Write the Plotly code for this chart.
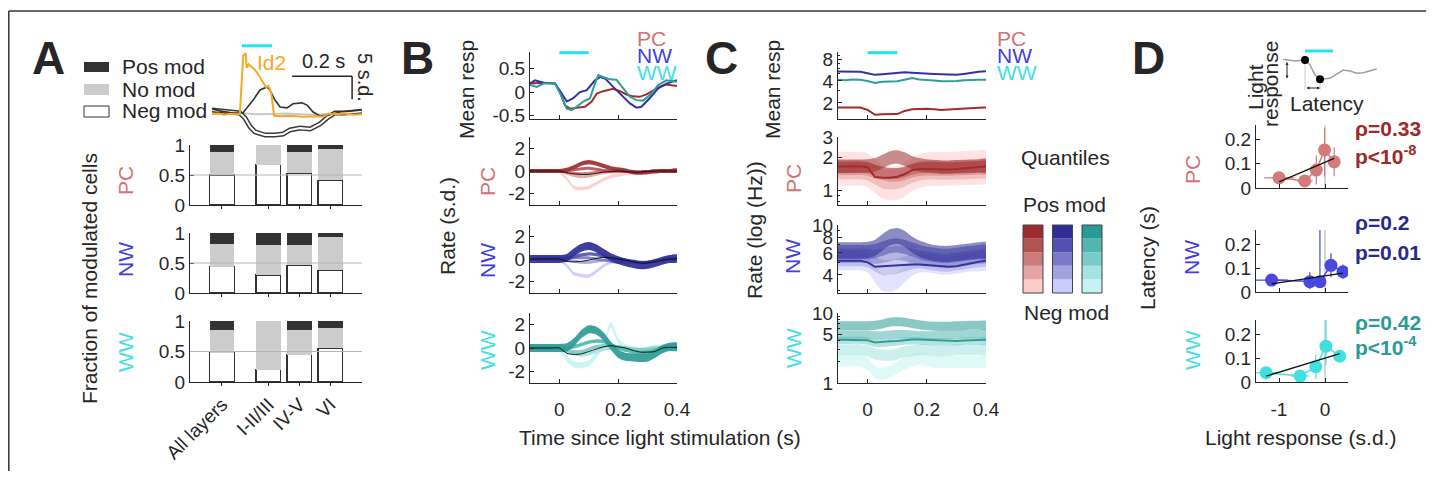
import plotly.graph_objects as go

OFF = 8  # the page adds an 8 px body margin; layout positions below are page pixels
W, H = 1434 - 2 * OFF, 479 - 2 * OFF
INK = '#262626'
FONT = 'Liberation Sans, Arial, sans-serif'

# ---------------- data ----------------
# panel A: fraction of modulated cells
layers = ['All layers', 'I-II/III', 'IV-V', 'VI']
layer_pos = [0, 1.5, 2.5, 3.5]
neg_frac = {'PC': [0.50, 0.67, 0.53, 0.41], 'NW': [0.44, 0.30, 0.46, 0.38], 'WW': [0.48, 0.20, 0.45, 0.55]}
pos_frac = {'PC': [0.11, 0.00, 0.11, 0.07], 'NW': [0.19, 0.20, 0.20, 0.07], 'WW': [0.14, 0.00, 0.14, 0.12]}

# panel A inset: example responses (s.d.)
id2_t = [-0.1, -0.08, -0.06, -0.04, -0.02, -0.007, 0.004, 0.012, 0.016, 0.022, 0.03, 0.04, 0.05, 0.06, 0.07,
         0.08, 0.088, 0.097, 0.107, 0.13, 0.16, 0.2, 0.25, 0.27, 0.29, 0.31, 0.34, 0.37, 0.4]
id2_v = [-0.3, -0.1, -0.4, -0.2, -0.3, -0.2, 12.5, 13.0, 9.8, 10.6, 10.1, 9.6, 8.8, 7.8, 6.8,
         5.6, 5.9, 4.6, -0.6, -0.7, -0.6, -0.8, -0.7, -0.8, -0.1, -0.3, -0.1, -0.4, -0.3]
posm_t = [-0.1, -0.07, -0.03, 0.003, 0.037, 0.06, 0.083, 0.093, 0.11, 0.127, 0.15, 0.17, 0.2, 0.217, 0.237,
          0.26, 0.293, 0.327, 0.36, 0.4]
posm_v = [0.9, 0.4, 0.0, 0.0, 2.8, 5.0, 5.65, 5.0, 2.8, 1.3, 1.1, 2.0, 2.2, 1.7, 0.2, -0.65, -0.4, 0.2, 0.4, 0.65]
nomod_t = [-0.1, 0.0, 0.05, 0.1, 0.15, 0.2, 0.25, 0.3, 0.4]
nomod_v = [0.4, 0.0, -0.3, -0.2, -0.1, -0.3, -0.4, -0.1, 0.2]
negm_t = [-0.1, -0.05, -0.007, 0.01, 0.027, 0.043, 0.077, 0.11, 0.137, 0.16, 0.193, 0.227, 0.26, 0.287, 0.31,
          0.343, 0.4]
negm_v = [0.65, 0.3, 0.0, -1.1, -3.0, -4.1, -4.8, -4.8, -4.6, -3.7, -3.3, -3.5, -2.4, -0.9, 0.0, 0.0, 0.4]

stim = [0.0, 0.1]

# panel B: mean response (s.d.)
pc_mean_t = [-0.1, -0.054, -0.015, 0.002, 0.019, 0.036, 0.059, 0.087, 0.11, 0.127, 0.149, 0.183, 0.206, 0.228,
             0.251, 0.273, 0.296, 0.319, 0.341, 0.364, 0.4]
pc_mean_v = [0.185, 0.2, 0.185, 0.0, -0.28, -0.35, -0.33, -0.31, -0.2, -0.03, 0.02, 0.07, 0.02, -0.05,
             -0.09, -0.1, -0.05, 0.04, 0.11, 0.16, 0.13]
nw_mean_t = [-0.1, -0.083, -0.054, -0.015, 0.008, 0.025, 0.047, 0.07, 0.093, 0.121, 0.138, 0.155, 0.183, 0.217,
             0.24, 0.262, 0.279, 0.307, 0.336, 0.364, 0.4]
nw_mean_v = [0.185, 0.25, 0.2, 0.185, -0.03, -0.2, -0.13, 0.0, 0.04, 0.25, 0.32, 0.29, 0.11, -0.1,
             -0.24, -0.33, -0.31, -0.13, 0.08, 0.18, 0.25]
ww_mean_t = [-0.1, -0.077, -0.054, -0.015, 0.008, 0.025, 0.042, 0.059, 0.081, 0.104, 0.121, 0.132, 0.149, 0.172,
             0.194, 0.217, 0.24, 0.262, 0.285, 0.313, 0.336, 0.364, 0.4]
ww_mean_v = [0.15, 0.11, 0.18, 0.185, -0.1, -0.35, -0.38, -0.31, -0.2, -0.13, 0.18, 0.36, 0.32, 0.27,
             0.26, 0.08, -0.1, -0.17, -0.18, -0.03, 0.15, 0.25, 0.22]

# panel B: quantile responses (s.d.), q1 = most negative ... q5 = most positive
t_grid = [-0.1, -0.075, -0.05, -0.025, 0.0, 0.025, 0.05, 0.075, 0.1, 0.125, 0.15, 0.175, 0.2, 0.225, 0.25,
          0.275, 0.3, 0.325, 0.35, 0.375, 0.4]
b_pc_q = [
    [0, 0, 0, 0, -0.05, -0.7, -1.45, -1.55, -1.45, -1.1, -0.75, -0.5, -0.35, -0.25, -0.2, -0.15, -0.1, -0.05, 0, 0, 0],
    [0, 0, 0, 0, 0, -0.2, -0.4, -0.5, -0.45, -0.3, -0.15, -0.1, -0.05, -0.05, -0.1, -0.1, -0.05, 0, 0, 0, 0],
    [0, 0, 0, 0, 0, -0.1, -0.2, -0.25, -0.2, -0.1, -0.05, 0, 0, -0.05, -0.1, -0.1, -0.05, 0, 0, 0, 0],
    [0, 0, 0, 0, 0, 0, 0.1, 0.2, 0.25, 0.15, 0.05, 0, 0, -0.05, -0.1, -0.1, -0.05, 0, 0, 0, 0],
    [0, 0, 0, 0, 0, 0.1, 0.35, 0.65, 0.78, 0.65, 0.45, 0.25, 0.15, 0.05, -0.1, -0.15, -0.1, -0.05, 0, 0, 0.05],
]
b_pc_all = [0, 0, 0, 0, 0, -0.15, -0.25, -0.3, -0.3, -0.2, -0.1, -0.05, 0, -0.05, -0.1, -0.1, -0.05, 0, 0, 0, 0]
b_pc_sem = [0.15, 0.13, 0.13, 0.13, 0.18]

b_nw_q = [
    [0, 0, 0, 0, -0.05, -0.6, -1.3, -1.45, -1.5, -1.1, -0.6, -0.3, -0.2, -0.2, -0.3, -0.35, -0.3, -0.2, -0.1, 0, 0],
    [0, 0, 0, 0, 0, -0.1, -0.2, -0.3, -0.3, -0.2, -0.1, 0, -0.1, -0.2, -0.3, -0.35, -0.3, -0.2, -0.1, 0, 0],
    [0, 0, 0, 0, 0, 0.05, 0.1, 0.1, 0.1, 0, -0.1, -0.2, -0.3, -0.3, -0.3, -0.3, -0.3, -0.2, -0.1, 0, 0],
    [0, 0, 0, 0, 0, 0.05, 0.2, 0.35, 0.45, 0.4, 0.25, 0.1, 0, -0.1, -0.2, -0.3, -0.3, -0.2, -0.1, 0, 0],
    [0, 0, 0, 0, 0, 0.1, 0.6, 1.0, 1.15, 0.95, 0.55, 0.15, -0.1, -0.3, -0.45, -0.55, -0.5, -0.35, -0.15, 0, 0.05],
]
b_nw_all = [0, 0, 0, 0, 0, -0.2, -0.25, -0.2, -0.1, 0.05, 0.15, 0.1, 0, -0.1, -0.25, -0.35, -0.35, -0.25, -0.1, 0, 0]
b_nw_sem = [0.15, 0.13, 0.13, 0.15, 0.35]

b_ww_q = [
    [0, 0, 0, 0, -0.1, -0.9, -1.4, -1.5, -1.3, -0.6, 0.3, 2.0, 0.6, 0.05, -0.1, -0.2, -0.1, 0, 0.1, 0.1, 0.1],
    [0, 0, 0, 0, 0, -0.3, -0.5, -0.6, -0.5, -0.3, -0.1, 0, 0, -0.1, -0.2, -0.3, -0.3, -0.2, 0, 0.1, 0.1],
    [0, 0, 0, 0, 0, -0.2, -0.35, -0.3, -0.1, 0.1, 0.2, 0.2, 0.1, 0, -0.1, -0.15, -0.1, 0, 0.05, 0.1, 0.1],
    [0, 0, 0, 0, 0, 0, 0.1, 0.3, 0.5, 0.6, 0.55, 0.3, 0, -0.2, -0.3, -0.4, -0.35, -0.2, 0, 0.1, 0.1],
    [0, 0, 0, 0, 0, 0.05, 0.5, 1.2, 1.6, 1.5, 1.0, 0.2, -0.5, -0.75, -0.8, -0.85, -0.8, -0.5, -0.1, 0.1, 0.1],
]
b_ww_all = [0, 0, 0, 0, 0, -0.45, -0.55, -0.5, -0.3, -0.1, 0.1, 0.2, 0.1, 0, -0.2, -0.35, -0.35, -0.3, 0, 0.05, 0.05]
b_ww_sem = [0.25, 0.15, 0.15, 0.15, 0.35]

# panel C: mean rate (Hz)
c_pc_mean = [1.73, 1.74, 1.72, 1.73, 1.6, 1.37, 1.39, 1.41, 1.40, 1.55, 1.63, 1.65, 1.66, 1.63, 1.6, 1.62,
             1.65, 1.67, 1.69, 1.71, 1.73]
c_nw_mean = [5.4, 5.4, 5.35, 5.35, 5.1, 4.85, 4.95, 5.05, 5.15, 5.25, 5.2, 5.1, 5.05, 5.0, 4.95, 4.9, 4.85,
             5.0, 5.2, 5.35, 5.45]
c_ww_mean = [4.17, 4.1, 4.2, 4.15, 4.0, 3.75, 3.9, 3.95, 3.95, 4.15, 4.4, 4.2, 4.15, 4.05, 3.95, 3.95, 4.0,
             4.1, 4.15, 4.15, 4.15]

# panel C: quantile rates (Hz), centre and spread factor
c_pc_q = [
    [1.57, 1.57, 1.57, 1.57, 1.52, 1.35, 1.2, 1.15, 1.16, 1.25, 1.4, 1.5, 1.55, 1.56, 1.56, 1.57, 1.58, 1.59, 1.6, 1.61, 1.62],
    [1.54, 1.54, 1.54, 1.54, 1.5, 1.38, 1.28, 1.25, 1.26, 1.32, 1.42, 1.5, 1.53, 1.53, 1.52, 1.52, 1.53, 1.54, 1.55, 1.56, 1.57],
    [1.58, 1.58, 1.58, 1.58, 1.56, 1.48, 1.42, 1.38, 1.38, 1.42, 1.5, 1.55, 1.57, 1.57, 1.56, 1.56, 1.57, 1.58, 1.59, 1.6, 1.6],
    [1.62, 1.62, 1.62, 1.62, 1.6, 1.52, 1.45, 1.42, 1.42, 1.47, 1.55, 1.6, 1.62, 1.62, 1.6, 1.6, 1.61, 1.62, 1.63, 1.64, 1.65],
    [1.65, 1.65, 1.65, 1.65, 1.66, 1.7, 1.82, 1.96, 2.0, 1.92, 1.78, 1.7, 1.66, 1.64, 1.62, 1.62, 1.63, 1.64, 1.65, 1.66, 1.67],
]
c_pc_spread = [1.42, 1.22, 1.15, 1.12, 1.15]
c_pc_line = [1.64, 1.65, 1.65, 1.65, 1.62, 1.32, 1.3, 1.3, 1.33, 1.4, 1.52, 1.56, 1.56, 1.55, 1.53, 1.54, 1.56,
             1.58, 1.6, 1.62, 1.64]

c_nw_q = [
    [5.1, 5.1, 5.1, 5.1, 4.9, 4.1, 3.5, 3.4, 3.6, 4.1, 4.6, 4.9, 4.9, 4.8, 4.7, 4.7, 4.8, 4.9, 5.0, 5.0, 5.1],
    [5.4, 5.4, 5.4, 5.4, 5.3, 4.9, 4.6, 4.6, 4.7, 4.9, 5.1, 5.2, 5.1, 5.0, 4.9, 4.9, 5.0, 5.1, 5.2, 5.3, 5.4],
    [5.7, 5.7, 5.7, 5.7, 5.7, 5.6, 5.7, 5.9, 6.0, 5.9, 5.7, 5.5, 5.4, 5.3, 5.2, 5.2, 5.3, 5.4, 5.5, 5.6, 5.7],
    [6.1, 6.1, 6.1, 6.1, 6.1, 6.2, 6.5, 6.8, 6.9, 6.7, 6.4, 6.1, 5.9, 5.8, 5.7, 5.7, 5.8, 5.9, 6.0, 6.1, 6.1],
    [6.3, 6.3, 6.3, 6.3, 6.35, 6.6, 7.3, 8.0, 8.2, 7.8, 7.0, 6.5, 6.2, 6.0, 5.9, 5.9, 6.0, 6.1, 6.2, 6.3, 6.3],
]
c_nw_spread = [1.17, 1.15, 1.14, 1.14, 1.16]
c_nw_line = [5.2, 5.2, 5.15, 5.2, 5.05, 4.65, 4.7, 4.75, 4.8, 4.85, 4.85, 4.85, 4.8, 4.75, 4.7, 4.65, 4.7,
             4.85, 5.0, 5.1, 5.2]

c_ww_q = [
    [2.1, 2.1, 2.1, 2.1, 1.9, 1.45, 1.35, 1.45, 1.65, 1.9, 2.1, 2.2, 2.1, 2.0, 2.0, 2.0, 2.0, 2.0, 2.0, 2.0, 2.0],
    [3.0, 3.0, 3.0, 3.0, 2.9, 2.6, 2.5, 2.5, 2.6, 2.8, 2.9, 3.0, 3.0, 2.9, 2.9, 2.9, 3.0, 3.0, 3.0, 3.0, 3.0],
    [4.1, 4.1, 4.1, 4.1, 4.0, 3.7, 3.7, 3.8, 3.9, 4.0, 4.0, 4.0, 3.9, 3.9, 3.9, 3.9, 3.9, 4.0, 4.0, 4.0, 4.0],
    [4.9, 4.9, 4.9, 4.9, 4.9, 4.8, 4.8, 4.9, 5.0, 5.0, 4.9, 4.8, 4.8, 4.8, 4.9, 4.9, 5.0, 5.0, 5.0, 5.0, 5.0],
    [6.6, 6.6, 6.6, 6.6, 6.6, 6.7, 7.0, 7.4, 7.5, 7.4, 7.1, 6.8, 6.6, 6.5, 6.5, 6.5, 6.6, 6.6, 6.7, 6.7, 6.7],
]
c_ww_spread = [1.22, 1.2, 1.13, 1.15, 1.16]
c_ww_line = [4.15, 4.15, 4.2, 4.15, 4.1, 3.8, 3.9, 3.95, 4.0, 4.1, 4.2, 4.2, 4.15, 4.1, 4.05, 4.0, 4.0, 4.05,
             4.1, 4.15, 4.15]

# panel D: latency vs light response, per quantile
d_pc_x = [-1.0, -0.44, -0.19, -0.01, 0.2]
d_pc_y = [0.042, 0.029, 0.074, 0.157, 0.108]
d_pc_xerr = [0.33, 0.17, 0.05, 0.03, 0.05]
d_pc_yerr_up = [0.01, 0.01, 0.06, 0.09, 0.06]
d_pc_yerr_dn = [0.01, 0.01, 0.06, 0.11, 0.06]
d_nw_x = [-1.16, -0.33, -0.11, 0.13, 0.39]
d_nw_y = [0.05, 0.043, 0.043, 0.112, 0.085]
d_nw_xerr = [0.35, 0.05, 0.12, 0.05, 0.03]
d_nw_yerr_up = [0.02, 0.04, 0.25, 0.05, 0.03]
d_nw_yerr_dn = [0.02, 0.03, 0.02, 0.05, 0.03]
d_ww_x = [-1.28, -0.54, -0.2, 0.02, 0.32]
d_ww_y = [0.039, 0.025, 0.064, 0.15, 0.108]
d_ww_xerr = [0.25, 0.2, 0.05, 0.04, 0.04]
d_ww_yerr_up = [0.01, 0.01, 0.05, 0.12, 0.02]
d_ww_yerr_dn = [0.01, 0.01, 0.05, 0.08, 0.02]
fit_slope = {'PC': 0.081, 'NW': 0.029, 'WW': 0.059}
fit_icpt = {'PC': 0.106, 'NW': 0.068, 'WW': 0.100}
stats_rho = {'PC': 'ρ=0.33', 'NW': 'ρ=0.2', 'WW': 'ρ=0.42'}
stats_p = {'PC': 'p&lt;10<sup>-8</sup>', 'NW': 'p=0.01', 'WW': 'p&lt;10<sup>-4</sup>'}

# schematic trace in panel D (arbitrary units)
sch_x = [3.3, 15, 25, 30, 35, 40, 50, 56.7, 63.3, 70, 76.7, 83.3, 90, 96.7]
sch_y = [35.7, 34, 35, 30, 20, 15.7, 16.7, 21, 25, 24, 21.7, 22.3, 24.3, 26]

# ---------------- style ----------------
LABEL = {'PC': '#d27373', 'NW': '#4040e0', 'WW': '#40e0e0'}
MEAN = {'PC': '#a52a2a', 'NW': '#3333a0', 'WW': '#2e9e9a'}
STAT = {'PC': '#a02828', 'NW': '#2a2a8c', 'WW': '#2a9a96'}
DOT = {'PC': '#d47a7a', 'NW': '#4848e0', 'WW': '#40e0e0'}
QCOL = {'PC': ['#ffcccc', '#e6a3a3', '#cc7a7a', '#b35252', '#9b2d30'],
        'NW': ['#ccccff', '#a3a3e0', '#7a7ac8', '#5252b0', '#2e2e96'],
        'WW': ['#c4f4f2', '#a3e3e0', '#7accc8', '#52b5b0', '#2a9a96']}
CYAN = '#22e4ee'
ORANGE = '#f7a823'


def rgba(h, a):
    h = h.lstrip('#')
    return 'rgba(%d,%d,%d,%.2f)' % (int(h[0:2], 16), int(h[2:4], 16), int(h[4:6], 16), a)


def fx(x):
    return (x - OFF) / W


def fy(y):
    return 1 - (y - OFF) / H


def axis(**kw):
    d = dict(showline=True, linecolor=INK, linewidth=1, ticks='inside', ticklen=4, tickcolor=INK,
             showgrid=False, zeroline=False, tickfont=dict(size=19, color=INK, family=FONT), fixedrange=True,
             automargin=False)
    d.update(kw)
    return d


HIDDEN = dict(visible=False, fixedrange=True, automargin=False)

layout = dict(width=W, height=H, margin=dict(l=0, r=0, t=0, b=0, pad=0, autoexpand=False),
              paper_bgcolor='white', plot_bgcolor='rgba(0,0,0,0)', showlegend=False, barmode='stack',
              font=dict(family=FONT, color=INK, size=19))
traces = []
shapes = []
annots = []


def set_axes(n, xd, yd, xa, ya):
    s = '' if n == 1 else str(n)
    layout['xaxis' + s] = dict(domain=[fx(xd[0]), fx(xd[1])], anchor='y' + s, **xa)
    layout['yaxis' + s] = dict(domain=[fy(yd[1]), fy(yd[0])], anchor='x' + s, **ya)


def ref(n):
    return ('x', 'y') if n == 1 else ('x%d' % n, 'y%d' % n)


def line(n, x, y, color, width, **kw):
    xr, yr = ref(n)
    traces.append(go.Scatter(x=x, y=y, mode='lines', line=dict(color=color, width=width, **kw),
                             xaxis=xr, yaxis=yr, hoverinfo='skip'))


def poly(n, x, y, color):
    xr, yr = ref(n)
    traces.append(go.Scatter(x=x, y=y, mode='lines', fill='toself', fillcolor=color,
                             line=dict(width=0, shape='spline', smoothing=0.7), xaxis=xr, yaxis=yr,
                             hoverinfo='skip'))


def ann(text, x, y, size=21, color=INK, angle=0, xanchor='center', bold=False):
    if bold:
        text = '<b>' + text + '</b>'
    annots.append(dict(text=text, x=fx(x), y=fy(y), xref='paper', yref='paper', showarrow=False,
                       font=dict(size=size, color=color, family=FONT), textangle=angle,
                       xanchor=xanchor, yanchor='middle'))


def rect(x0, y0, x1, y1, fill, lc=None, lw=1):
    shapes.append(dict(type='rect', xref='paper', yref='paper', x0=fx(x0), x1=fx(x1), y0=fy(y1),
                       y1=fy(y0), fillcolor=fill, line=dict(color=lc or fill, width=lw if lc else 0)))


groups = ['PC', 'NW', 'WW']

# ---------------- panel A ----------------
set_axes(1, (212, 362), (44, 141), dict(HIDDEN, range=[-0.1, 0.4]), dict(HIDDEN, range=[-6.1, 15]))
line(1, nomod_t, nomod_v, '#c8c8c8', 2)
line(1, negm_t, negm_v, '#3a3a3a', 5)
line(1, negm_t, negm_v, 'white', 2)
line(1, posm_t, posm_v, '#333333', 1.6)
line(1, id2_t, id2_v, ORANGE, 2)
shapes.append(dict(type='line', xref='x', yref='y', x0=stim[0], x1=stim[1], y0=14.6, y1=14.6,
                   line=dict(color=CYAN, width=3)))
# scale bar 0.2 s x 5 s.d.
shapes.append(dict(type='line', xref='x', yref='y', x0=0.167, x1=0.367, y0=8.0, y1=8.0, line=dict(color=INK, width=1.5)))
shapes.append(dict(type='line', xref='x', yref='y', x0=0.367, x1=0.367, y0=8.0, y1=3.0, line=dict(color=INK, width=1.5)))
ann('0.2 s', 323, 61, size=20)
ann('5 s.d.', 365, 77, size=20, angle=90)
ann('Id2', 271, 62, size=21, color=ORANGE)

bar_dom = {'PC': (145, 205), 'NW': (233, 293), 'WW': (321, 382)}
for i, g in enumerate(groups):
    n = 2 + i
    xr, yr = ref(n)
    last = g == 'WW'
    set_axes(n, (190, 362), bar_dom[g],
             axis(range=[-1.03, 4.52], tickvals=layer_pos, ticktext=layers, showticklabels=last, tickangle=-45,
                  ticks='outside', ticklen=3),
             axis(range=[0, 1], tickvals=[0, 0.5, 1], ticktext=['0', '0.5', '1']))
    neg = neg_frac[g]
    pos = pos_frac[g]
    nomod = [1 - a - b for a, b in zip(neg, pos)]
    traces.append(go.Bar(x=layer_pos, y=neg, width=0.8, marker=dict(color='white', line=dict(color='#333333', width=1.3)),
                         xaxis=xr, yaxis=yr, hoverinfo='skip'))
    traces.append(go.Bar(x=layer_pos, y=nomod, width=0.8, marker=dict(color='#cccccc', line=dict(width=0)),
                         xaxis=xr, yaxis=yr, hoverinfo='skip'))
    traces.append(go.Bar(x=layer_pos, y=pos, width=0.8, marker=dict(color='#333333', line=dict(width=0)),
                         xaxis=xr, yaxis=yr, hoverinfo='skip'))
    shapes.append(dict(type='line', xref=xr + ' domain', yref=yr, x0=0, x1=1, y0=0.5, y1=0.5,
                       line=dict(color='#b4b4b4', width=1), layer='above'))

ann('A', 48, 58, size=46, bold=True)
rect(84, 62, 109, 72, '#333333')
rect(84, 84, 109, 95, '#cccccc')
rect(84, 106, 109, 117, 'white', '#333333', 1)
ann('Pos mod', 120, 67, xanchor='left')
ann('No mod', 120, 89, xanchor='left')
ann('Neg mod', 120, 111, xanchor='left')
ann('PC', 125, 181, color=LABEL['PC'], angle=-90)
ann('NW', 125, 260, color=LABEL['NW'], angle=-90)
ann('WW', 125, 352, color=LABEL['WW'], angle=-90)
ann('Fraction of modulated cells', 89, 279, angle=-90)

# ---------------- panel B ----------------
b_dom = [(52, 119), (137, 205), (225, 293), (313, 383)]
set_axes(5, (530, 677), b_dom[0], axis(range=[-0.1, 0.4], tickvals=[0, 0.2, 0.4], showticklabels=False),
         axis(range=[-0.57, 0.85], tickvals=[-0.5, 0, 0.5], ticktext=['-0.5', '0', '0.5']))
line(5, pc_mean_t, pc_mean_v, MEAN['PC'], 2)
line(5, nw_mean_t, nw_mean_v, MEAN['NW'], 2)
line(5, ww_mean_t, ww_mean_v, MEAN['WW'], 2)
shapes.append(dict(type='line', xref='x5', yref='y5 domain', x0=stim[0], x1=stim[1], y0=0.99, y1=0.99,
                   line=dict(color=CYAN, width=3)))

b_q = {'PC': b_pc_q, 'NW': b_nw_q, 'WW': b_ww_q}
b_all = {'PC': b_pc_all, 'NW': b_nw_all, 'WW': b_ww_all}
b_sem = {'PC': b_pc_sem, 'NW': b_nw_sem, 'WW': b_ww_sem}
for i, g in enumerate(groups):
    n = 6 + i
    set_axes(n, (530, 677), b_dom[i + 1],
             axis(range=[-0.1, 0.4], tickvals=[0, 0.2, 0.4], ticktext=['0', '0.2', '0.4'], showticklabels=g == 'WW',
                  ticklabelstandoff=9),
             axis(range=[-3, 3], tickvals=[-2, 0, 2], ticktext=['-2', '0', '2']))
    for q in range(5):
        c = b_q[g][q]
        hw = b_sem[g][q]
        hi = [v + hw for v in c]
        lo = [v - hw for v in c]
        poly(n, t_grid + t_grid[::-1], hi + lo[::-1], rgba(QCOL[g][q], 0.92))
    line(n, t_grid, b_all[g], '#111111', 1, shape='spline', smoothing=0.7)

ann('B', 417, 58, size=46, bold=True)
ann('Mean resp', 467, 90, angle=-90)
ann('Rate (s.d.)', 447, 226, angle=-90)
for g, yy in zip(groups, [181, 260, 350]):
    ann(g, 487, yy, color=LABEL[g], angle=-90)
for g, yy in zip(groups, [38, 55.5, 72.5]):
    ann(g, 635, yy, color=LABEL[g], xanchor='left')
ann('Time since light stimulation (s)', 660, 437)

# ---------------- panel C ----------------
set_axes(9, (838, 986), b_dom[0], axis(range=[-0.1, 0.4], tickvals=[0, 0.2, 0.4], showticklabels=False),
         axis(type='log', range=[0.079, 1.0], tickvals=[2, 4, 8], ticktext=['2', '4', '8'],
              minor=dict(tickvals=[3, 5, 6, 7, 9], ticks='inside', ticklen=2, tickcolor=INK)))
line(9, t_grid, c_pc_mean, MEAN['PC'], 2)
line(9, t_grid, c_nw_mean, MEAN['NW'], 2)
line(9, t_grid, c_ww_mean, MEAN['WW'], 2)
shapes.append(dict(type='line', xref='x9', yref='y9 domain', x0=stim[0], x1=stim[1], y0=0.99, y1=0.99,
                   line=dict(color=CYAN, width=3)))

c_q = {'PC': c_pc_q, 'NW': c_nw_q, 'WW': c_ww_q}
c_sp = {'PC': c_pc_spread, 'NW': c_nw_spread, 'WW': c_ww_spread}
c_line = {'PC': c_pc_line, 'NW': c_nw_line, 'WW': c_ww_line}
c_y = {'PC': dict(range=[-0.131, 0.481], tickvals=[1, 2, 3], ticktext=['1', '2', '3'], minor=[0.8, 0.9]),
       'NW': dict(range=[0.458, 1.002], tickvals=[4, 6, 8, 10], ticktext=['4', '6', '8', '10'], minor=[3, 5, 7, 9]),
       'WW': dict(range=[0.0, 1.002], tickvals=[1, 5, 10], ticktext=['1', '5', '10'], minor=[2, 3, 4, 6, 7, 8, 9])}
for i, g in enumerate(groups):
    n = 10 + i
    cy = c_y[g]
    set_axes(n, (838, 986), b_dom[i + 1],
             axis(range=[-0.1, 0.4], tickvals=[0, 0.2, 0.4], ticktext=['0', '0.2', '0.4'], showticklabels=g == 'WW',
                  ticklabelstandoff=9),
             axis(type='log', range=cy['range'], tickvals=cy['tickvals'], ticktext=cy['ticktext'],
                  minor=dict(tickvals=cy['minor'], ticks='inside', ticklen=2, tickcolor=INK)))
    for q in range(5):
        c = c_q[g][q]
        s = c_sp[g][q]
        hi = [v * s for v in c]
        lo = [v / s for v in c]
        poly(n, t_grid + t_grid[::-1], hi + lo[::-1], rgba(QCOL[g][q], 0.55))
    line(n, t_grid, c_line[g], MEAN[g], 2)

ann('C', 721, 58, size=46, bold=True)
ann('Mean resp', 773, 90, angle=-90)
ann('Rate (log (Hz))', 755, 230, angle=-90)
for g, yy in zip(groups, [179, 257, 348]):
    ann(g, 793, yy, color=LABEL[g], angle=-90)
for g, yy in zip(groups, [38, 55.5, 72.5]):
    ann(g, 995, yy, color=LABEL[g], xanchor='left')
ann('Quantiles', 1065, 157)
ann('Pos mod', 1064, 205)
ann('Neg mod', 1066, 312)
for j, g in enumerate(groups):
    x0 = 1023 + j * 29.5
    row_h = (293 - 225) / 5
    for q in range(5):
        top = 225 + (4 - q) * row_h
        rect(x0, top, x0 + 20, top + row_h, QCOL[g][q])
    shapes.append(dict(type='rect', xref='paper', yref='paper', x0=fx(x0), x1=fx(x0 + 20),
                       y0=fy(293), y1=fy(225), line=dict(color='#444444', width=1)))

# ---------------- panel D ----------------
d_dom = {'PC': (125, 188), 'NW': (230, 292), 'WW': (320, 382)}
d_data = {'PC': (d_pc_x, d_pc_y, d_pc_xerr, d_pc_yerr_up, d_pc_yerr_dn),
          'NW': (d_nw_x, d_nw_y, d_nw_xerr, d_nw_yerr_up, d_nw_yerr_dn),
          'WW': (d_ww_x, d_ww_y, d_ww_xerr, d_ww_yerr_up, d_ww_yerr_dn)}
for i, g in enumerate(groups):
    n = 13 + i
    xr, yr = ref(n)
    set_axes(n, (1256, 1348), d_dom[g],
             axis(range=[-1.5, 0.5], tickvals=[-1, 0], ticktext=['-1', '0'], showticklabels=g == 'WW',
                  ticklabelstandoff=10),
             axis(range=[0, 0.26], tickvals=[0, 0.1, 0.2], ticktext=['0', '0.1', '0.2']))
    shapes.append(dict(type='line', xref=xr, yref=yr + ' domain', x0=0, x1=0, y0=0, y1=1,
                       line=dict(color='#c8c8c8', width=1.5), layer='below'))
    x, y, xe, yu, yd = d_data[g]
    traces.append(go.Scatter(x=x, y=y, mode='lines+markers', xaxis=xr, yaxis=yr, hoverinfo='skip',
                             line=dict(color=DOT[g], width=1.5), cliponaxis=True,
                             marker=dict(color=DOT[g], size=13, line=dict(width=0)),
                             error_x=dict(type='data', array=xe, color=DOT[g], thickness=1.2, width=0),
                             error_y=dict(type='data', array=yu, arrayminus=yd, color=DOT[g], thickness=1.2, width=0)))
    fit_x = [min(x), max(x)]
    fit_y = [fit_icpt[g] + fit_slope[g] * v for v in fit_x]
    line(n, fit_x, fit_y, '#111111', 1.3)

ann('D', 1148, 58, size=46, bold=True)
ann('Latency (s)', 1148, 258, angle=-90)
for g, yy in zip(groups, [170, 258, 350]):
    ann(g, 1192, yy, color=LABEL[g], angle=-90)
for g, (y1, y2) in zip(groups, [(129, 155), (223, 252), (322, 346)]):
    ann(stats_rho[g], 1353, y1, color=STAT[g], xanchor='left', bold=True)
    ann(stats_p[g], 1353, y2, color=STAT[g], xanchor='left', bold=True)
ann('Light response (s.d.)', 1300, 437)

# schematic
set_axes(16, (1280, 1380), (45, 95), dict(HIDDEN, range=[0, 100]), dict(HIDDEN, range=[0, 50]))
line(16, [sch_x[2], sch_x[2]], [sch_y[2], 5], '#cccccc', 1)
line(16, [sch_x[5], sch_x[5]], [sch_y[5], 5], '#cccccc', 1)
line(16, sch_x, sch_y, '#a0a0a0', 1.5)
traces.append(go.Scatter(x=[sch_x[2], sch_x[5]], y=[sch_y[2], sch_y[5]], mode='markers', xaxis='x16', yaxis='y16',
                         marker=dict(color='black', size=8), hoverinfo='skip'))
shapes.append(dict(type='line', xref='x16', yref='y16', x0=25, x1=53, y0=44, y1=44, line=dict(color=CYAN, width=3)))
for (xa, ya, xb, yb) in [(7, 15, 7, 33), (sch_x[2], 7, sch_x[5], 7)]:
    annots.append(dict(x=xb, y=yb, ax=xa, ay=ya, xref='x16', yref='y16', axref='x16', ayref='y16', text='',
                       showarrow=True, arrowhead=2, arrowsize=0.6, startarrowhead=2, startarrowsize=0.6,
                       arrowside='end+start', arrowwidth=1, arrowcolor=INK))
ann('Light', 1255, 87, angle=-90)
ann('response', 1271, 84, angle=-90)
ann('Latency', 1327, 103)

# frame
shapes.append(dict(type='line', xref='paper', yref='paper', x0=fx(8.8), x1=fx(8.8), y0=0, y1=fy(11),
                   line=dict(color='#333333', width=1.5)))
shapes.append(dict(type='line', xref='paper', yref='paper', x0=fx(8.8), x1=1, y0=fy(11), y1=fy(11),
                   line=dict(color='#333333', width=1.5)))

layout['shapes'] = shapes
layout['annotations'] = annots
fig = go.Figure(data=traces, layout=layout)
fig.write_html('out.html')
